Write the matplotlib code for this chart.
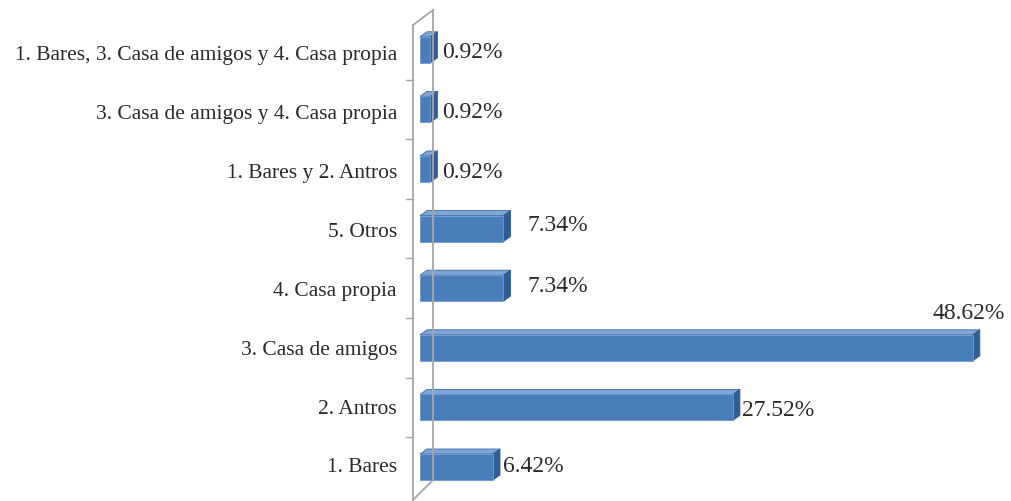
import matplotlib.pyplot as plt
from matplotlib.patches import Polygon

# data
categorias = ['1. Bares', '2. Antros', '3. Casa de amigos', '4. Casa propia',
              '5. Otros', '1. Bares y 2. Antros',
              '3. Casa de amigos y 4. Casa propia',
              '1. Bares, 3. Casa de amigos y 4. Casa propia']
valores = [6.42, 27.52, 48.62, 7.34, 7.34, 0.92, 0.92, 0.92]
etiquetas = ['6.42%', '27.52%', '48.62%', '7.34%', '7.34%', '0.92%', '0.92%', '0.92%']

plt.rcParams['font.family'] = ['Liberation Serif', 'DejaVu Serif']

W, H = 1011, 501
fig = plt.figure(figsize=(W / 100, H / 100), dpi=100)
ax = fig.add_axes([0, 0, 1, 1])

# pixel -> data mapping
px_per_pct = 11.37
px_per_cat = 59.6
x0_px, y0_px = 420, 467
ax.set_xlim(-x0_px / px_per_pct, (W - x0_px) / px_per_pct)
ax.set_ylim((y0_px - H) / px_per_cat, y0_px / px_per_cat)
ax.axis('off')

def dx(px):
    return px / px_per_pct

def dy(px):
    return px / px_per_cat

front = '#4A7EBB'
top = '#7FA6D6'
side = '#2F5E96'
edge = '#3A6AA4'
wall = '#A6A6A6'
txt = '#2a2a2a'

# depth of the 3d effect
ox, oy = dx(7), dy(5)
h = dy(26) / 2

# wall lines
xf, xb = dx(-7), dx(13)
ax.plot([xf, xf], [dy(-36), dy(442)], color=wall, lw=1.3)
ax.plot([xb, xb], [dy(-13), dy(457)], color=wall, lw=1.3)
ax.plot([xf, xb], [dy(442), dy(457)], color=wall, lw=1.3)
ax.plot([xf, xb], [dy(-33), dy(-13)], color=wall, lw=1.3)
for k in range(1, len(categorias)):
    yk = k - 0.5
    ax.plot([xf - dx(7), xf], [yk, yk], color=wall, lw=1.0)

for i, (v, lab) in enumerate(zip(valores, etiquetas)):
    y = i
    # top face
    ax.add_patch(Polygon([(0, y + h), (v, y + h), (v + ox, y + h + oy), (ox, y + h + oy)],
                         closed=True, facecolor=top, edgecolor=edge, lw=0.6))
    # side face
    ax.add_patch(Polygon([(v, y - h), (v + ox, y - h + oy), (v + ox, y + h + oy), (v, y + h)],
                         closed=True, facecolor=side, edgecolor=side, lw=0.6))
    # front face
    ax.barh(y, v, height=2 * h, color=front, edgecolor='#6E9AD0', lw=0.6)

    ax.text(-dx(23), i * 58.9 / 59.6 - dy(1), categorias[i], ha='right', va='center',
            fontsize=15.5, color=txt)

label_pos = {0: (dx(3), dy(1), 'left'), 1: (dx(2), dy(-3), 'left'),
             2: (dx(25), dy(34), 'right'), 3: (dx(17), dy(2), 'left'),
             4: (dx(17), dy(3), 'left')}
for i, (v, lab) in enumerate(zip(valores, etiquetas)):
    ex, ey, ha = label_pos.get(i, (dx(5), dy(-3), 'left'))
    ax.text(v + ox + ex, i + ey, lab, ha=ha, va='center', fontsize=17, color=txt)

fig.savefig('out.png', dpi=100)
